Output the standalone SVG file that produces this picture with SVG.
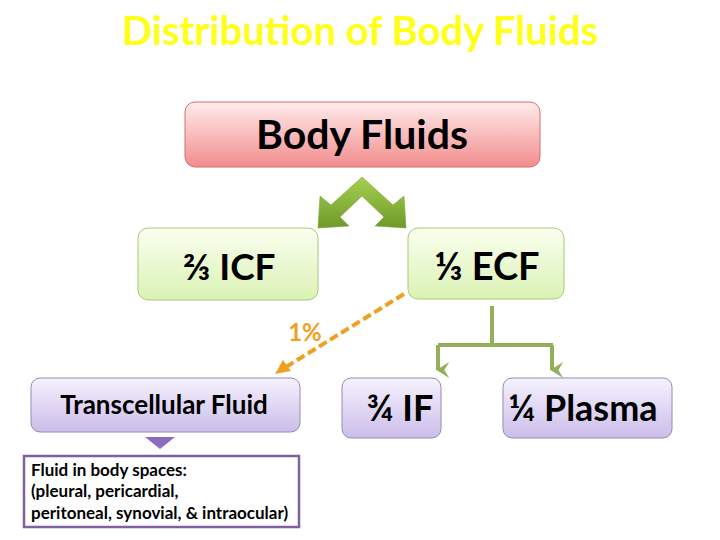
<svg xmlns="http://www.w3.org/2000/svg" width="720" height="540" viewBox="0 0 720 540">
<defs>
<linearGradient id="pink" x1="0" y1="0" x2="0" y2="1"><stop offset="0" stop-color="#ffecec"/><stop offset="1" stop-color="#f28c8c"/></linearGradient>
<linearGradient id="green" x1="0" y1="0" x2="0" y2="1"><stop offset="0" stop-color="#fbfff0"/><stop offset="1" stop-color="#daf2b4"/></linearGradient>
<linearGradient id="lav" x1="0" y1="0" x2="0" y2="1"><stop offset="0" stop-color="#f6f2fd"/><stop offset="1" stop-color="#cbbdea"/></linearGradient>
<linearGradient id="chev" x1="0" y1="0" x2="0" y2="1"><stop offset="0" stop-color="#a6d050"/><stop offset="1" stop-color="#6e9a2a"/></linearGradient>
<marker id="ga" viewBox="0 0 10 10" refX="5" refY="9" markerWidth="16" markerHeight="16" markerUnits="userSpaceOnUse" orient="auto"><path d="M0,2 L5,5 L10,2 L5,10 Z" fill="#92b05a"/></marker>
<style>
text{font-family:"Lato","Noto Sans",sans-serif;font-weight:bold;text-anchor:middle;fill:#000}
.l{text-anchor:start}
</style>
</defs>
<text x="360" y="45" font-size="40" style="fill:#ffff1a">Distribution of Body Fluids</text>
<g id="connectors">
<polygon points="362,177 393,205 404,196 406,228 375,226 384,217 362,196 340,217 349,226 318,228 320,196 331,205" fill="url(#chev)" stroke="#6e9a2a" stroke-width="0.5"/>
<line x1="404" y1="294" x2="286" y2="367" stroke="#f0a020" stroke-width="4" stroke-dasharray="9,4"/>
<polygon points="275,374 283,360 291,371" fill="#f0a020"/>
<path d="M492,306 V345 M438,345 H553" stroke="#92b05a" stroke-width="4" fill="none"/>
<line x1="438" y1="345" x2="438" y2="370" stroke="#92b05a" stroke-width="4" marker-end="url(#ga)"/>
<line x1="552" y1="345" x2="552" y2="370" stroke="#92b05a" stroke-width="4" marker-end="url(#ga)"/>
<polygon points="145,437 175,437 160,449" fill="#8a6cc0"/>
</g>
<text x="305" y="341" font-size="24" style="fill:#f0a020">1%</text>
<g id="body"><rect x="185" y="102" width="355" height="65" rx="10" fill="url(#pink)" stroke="#d07070"/><text x="362" y="149" font-size="41">Body Fluids</text></g>
<g id="icf"><rect x="138" y="228" width="180" height="72" rx="10" fill="url(#green)" stroke="#a8c878"/><text x="229" y="280" font-size="37">⅔ ICF</text></g>
<g id="ecf"><rect x="408" y="228" width="156" height="71" rx="10" fill="url(#green)" stroke="#a8c878"/><text x="487" y="280" font-size="38">⅓ ECF</text></g>
<g id="trans"><rect x="31" y="378" width="269" height="54" rx="9" fill="url(#lav)" stroke="#9888b8"/><text x="164" y="414" font-size="26">Transcellular Fluid</text></g>
<g id="desc"><rect x="24" y="456" width="275" height="71" fill="#fff" stroke="#8060a0" stroke-width="2.5"/>
<text x="31" y="476" font-size="17" class="l">Fluid in body spaces:</text><text x="31" y="497" font-size="17" class="l">(pleural, pericardial,</text><text x="31" y="519" font-size="17" class="l">peritoneal, synovial, &amp; intraocular)</text></g>
<g id="if"><rect x="342" y="378" width="99" height="60" rx="9" fill="url(#lav)" stroke="#9888b8"/><text x="400" y="421" font-size="36">¾ IF</text></g>
<g id="plasma"><rect x="503" y="378" width="169" height="60" rx="9" fill="url(#lav)" stroke="#9888b8"/><text x="583" y="421" font-size="36">¼ Plasma</text></g>
</svg>
